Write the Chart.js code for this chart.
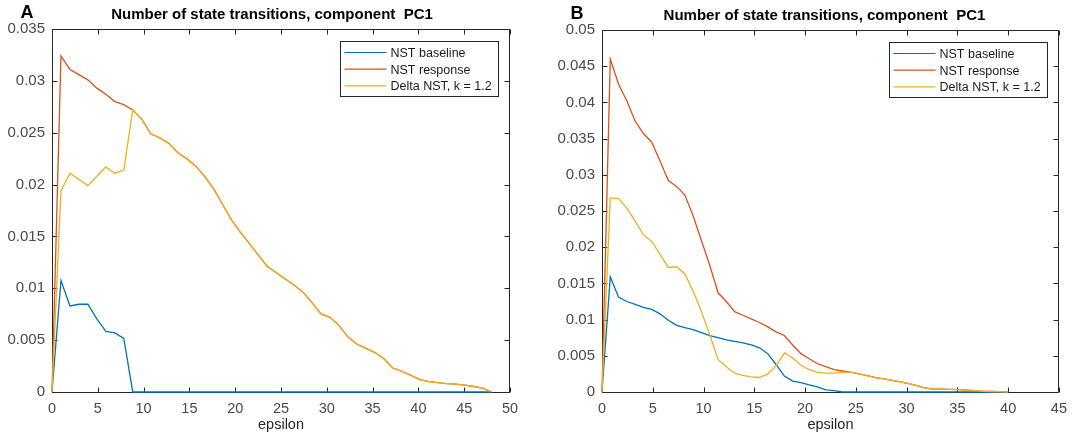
<!DOCTYPE html>
<html>
<head>
<meta charset="utf-8">
<script src="https://cdn.jsdelivr.net/npm/chart.js@4.4.0/dist/chart.umd.min.js"></script>
<style>
html, body { margin: 0; padding: 0; background: #fff; }
#wrap { position: relative; width: 1075px; height: 441px; }
.panel { position: absolute; top: 0; height: 441px; }
</style>
</head>
<body>
<div id="wrap">
  <div class="panel" style="left:0;width:537px"><canvas id="chartA"></canvas></div>
  <div class="panel" style="left:537px;width:538px"><canvas id="chartB"></canvas></div>
</div>
<script>
// Panel A data (epsilon from 0 to 48, 50 samples)
const epsA = [0, 0.98, 1.959, 2.939, 3.918, 4.898, 5.878, 6.857, 7.837, 8.816,
  9.796, 10.776, 11.755, 12.735, 13.714, 14.694, 15.673, 16.653, 17.633, 18.612,
  19.592, 20.571, 21.551, 22.531, 23.51, 24.49, 25.469, 26.449, 27.429, 28.408,
  29.388, 30.367, 31.347, 32.327, 33.306, 34.286, 35.265, 36.245, 37.224, 38.204,
  39.184, 40.163, 41.143, 42.122, 43.102, 44.082, 45.061, 46.041, 47.02, 48];
const baselineA = [0, 0.01075, 0.0083, 0.00846, 0.00846, 0.00706, 0.00585, 0.0057, 0.00517, 0,
  0, 0, 0, 0, 0, 0, 0, 0, 0, 0,
  0, 0, 0, 0, 0, 0, 0, 0, 0, 0,
  0, 0, 0, 0, 0, 0, 0, 0, 0, 0,
  0, 0, 0, 0, 0, 0, 0, 0, 0, 0];
const responseA = [0, 0.0324, 0.0311, 0.0306, 0.0301, 0.0293, 0.0287, 0.0280, 0.0277, 0.0272,
  0.0263, 0.0249, 0.0245, 0.0240, 0.0231, 0.0225, 0.0218, 0.0208, 0.0196, 0.0181,
  0.0166, 0.0154, 0.0143, 0.0132, 0.0121, 0.0115, 0.0109, 0.0103, 0.0096, 0.0086,
  0.0075, 0.0072, 0.0064, 0.0053, 0.0046, 0.0042, 0.0038, 0.0032, 0.0023, 0.0020,
  0.0016, 0.0012, 0.0010, 0.0009, 0.0008, 0.00076, 0.00067, 0.00053, 0.00037, 0];
const deltaA = [0, 0.0194, 0.0211, 0.0205, 0.0199, 0.0208, 0.0217, 0.0211, 0.0214, 0.0272,
  0.0263, 0.0249, 0.0245, 0.0240, 0.0231, 0.0225, 0.0218, 0.0208, 0.0196, 0.0181,
  0.0166, 0.0154, 0.0143, 0.0132, 0.0121, 0.0115, 0.0109, 0.0103, 0.0096, 0.0086,
  0.0075, 0.0072, 0.0064, 0.0053, 0.0046, 0.0042, 0.0038, 0.0032, 0.0023, 0.0020,
  0.0016, 0.0012, 0.0010, 0.0009, 0.0008, 0.00076, 0.00067, 0.00053, 0.00037, 0];
const xTicksA = [0, 5, 10, 15, 20, 25, 30, 35, 40, 45, 50];
const yTicksA = [0, 0.005, 0.01, 0.015, 0.02, 0.025, 0.03, 0.035];
const yLabelsA = ['0', '0.005', '0.01', '0.015', '0.02', '0.025', '0.03', '0.035'];

// Panel B data (epsilon from 0 to 40, 50 samples)
const epsB = [0, 0.816, 1.633, 2.449, 3.265, 4.082, 4.898, 5.714, 6.531, 7.347,
  8.163, 8.98, 9.796, 10.612, 11.429, 12.245, 13.061, 13.878, 14.694, 15.51,
  16.327, 17.143, 17.959, 18.776, 19.592, 20.408, 21.224, 22.041, 22.857, 23.673,
  24.49, 25.306, 26.122, 26.939, 27.755, 28.571, 29.388, 30.204, 31.02, 31.837,
  32.653, 33.469, 34.286, 35.102, 35.918, 36.735, 37.551, 38.367, 39.184, 40];
const baselineB = [0, 0.0159, 0.0131, 0.0125, 0.0121, 0.0117, 0.0114, 0.0108, 0.0099, 0.0092,
  0.0089, 0.0086, 0.0082, 0.0078, 0.0075, 0.0072, 0.0070, 0.0068, 0.0065, 0.0061,
  0.0053, 0.0038, 0.0022, 0.0015, 0.0013, 0.0010, 0.0007, 0.0003, 0.0002, 0,
  0, 0, 0, 0, 0, 0, 0, 0, 0, 0,
  0, 0, 0, 0, 0, 0, 0, 0, 0, 0];
const responseB = [0, 0.0460, 0.0425, 0.0402, 0.0374, 0.0357, 0.0345, 0.0319, 0.0292, 0.0284,
  0.0272, 0.0243, 0.0209, 0.0175, 0.0137, 0.0125, 0.0111, 0.0106, 0.0101, 0.0096,
  0.0090, 0.0083, 0.0078, 0.0065, 0.0053, 0.0046, 0.0039, 0.0035, 0.0031, 0.0029,
  0.00275, 0.0025, 0.00225, 0.0020, 0.0018, 0.0016, 0.0014, 0.00115, 0.00087, 0.00055,
  0.00041, 0.0004, 0.00036, 0.00032, 0.00026, 0.00018, 0.0001, 0.00007, 0.00004, 0];
const deltaB = [0, 0.0268, 0.0267, 0.0254, 0.0236, 0.0217, 0.0208, 0.0190, 0.0172, 0.0173,
  0.0163, 0.0139, 0.0111, 0.0079, 0.0045, 0.0035, 0.0026, 0.0023, 0.0021, 0.0020,
  0.0025, 0.0036, 0.0054, 0.0047, 0.0037, 0.0031, 0.0027, 0.0026, 0.0026, 0.0027,
  0.00275, 0.0025, 0.00225, 0.0020, 0.0018, 0.0016, 0.0014, 0.00115, 0.00087, 0.00055,
  0.00041, 0.0004, 0.00036, 0.00032, 0.00026, 0.00018, 0.0001, 0.00007, 0.00004, 0];
const xTicksB = [0, 5, 10, 15, 20, 25, 30, 35, 40, 45];
const yTicksB = [0, 0.005, 0.01, 0.015, 0.02, 0.025, 0.03, 0.035, 0.04, 0.045, 0.05];
const yLabelsB = ['0', '0.005', '0.01', '0.015', '0.02', '0.025', '0.03', '0.035', '0.04', '0.045', '0.05'];

const seriesNames = ['NST baseline', 'NST response', 'Delta NST, k = 1.2'];
const seriesColors = ['#0072BD', '#D95319', '#EDB120'];
const chartTitle = 'Number of state transitions, component  PC1';

const FONT = "'Liberation Sans', Arial, Helvetica, sans-serif";
const AXIS_COLOR = '#262626';
const TICK_TEXT = '#4a4a4a';

// MATLAB-like box with inward ticks, title, panel letter and legend
const matlabPlugin = {
  id: 'matlab',
  beforeDatasetsDraw(chart) {
    const { ctx, chartArea: a, scales: { x, y } } = chart;
    const L = Math.round(a.left) + 0.5, R = Math.round(a.right) - 0.5;
    const T = Math.round(a.top) + 0.5, B = Math.round(a.bottom) + 0.5;
    ctx.save();
    ctx.strokeStyle = AXIS_COLOR;
    ctx.lineWidth = 1;
    ctx.beginPath();
    ctx.rect(L, T, R - L, B - T);
    x.ticks.forEach(t => {
      const px = Math.round(x.getPixelForValue(t.value)) + 0.5;
      ctx.moveTo(px, B); ctx.lineTo(px, B - 5);
      ctx.moveTo(px, T); ctx.lineTo(px, T + 5);
    });
    y.ticks.forEach(t => {
      const py = Math.round(y.getPixelForValue(t.value)) + 0.5;
      ctx.moveTo(L, py); ctx.lineTo(L + 5, py);
      ctx.moveTo(R, py); ctx.lineTo(R - 5, py);
    });
    ctx.stroke();
    ctx.restore();
  },
  afterDraw(chart, args, opts) {
    const { ctx, chartArea: a } = chart;
    ctx.save();
    // title
    ctx.fillStyle = '#000';
    ctx.font = `bold 15px ${FONT}`;
    ctx.textAlign = 'center';
    ctx.textBaseline = 'middle';
    ctx.fillText(chartTitle, (a.left + a.right) / 2 + opts.titleShift, a.top - 14);
    // panel letter
    ctx.font = `bold 18px ${FONT}`;
    ctx.fillText(opts.letter, a.left - 25, a.top - 16);
    // legend
    const bw = 158, bh = 55;
    const bx = Math.round(a.right - 12 - bw) + 0.5, by = Math.round(a.top + 12) + 0.5;
    ctx.fillStyle = '#fff';
    ctx.fillRect(bx, by, bw, bh);
    ctx.strokeStyle = '#262626';
    ctx.lineWidth = 1;
    ctx.strokeRect(bx, by, bw, bh);
    ctx.font = `12.5px ${FONT}`;
    ctx.textAlign = 'left';
    chart.data.datasets.forEach((ds, i) => {
      const cy = by + 11 + i * 16.7;
      ctx.strokeStyle = ds.borderColor;
      ctx.lineWidth = 1.2;
      ctx.beginPath();
      ctx.moveTo(bx + 4, cy);
      ctx.lineTo(bx + 46, cy);
      ctx.stroke();
      ctx.fillStyle = '#1a1a1a';
      ctx.fillText(ds.label, bx + 50, cy + 1);
    });
    ctx.restore();
  }
};

function makeChart(id, eps, series, xTicks, yTicks, yLabels, xMax, yMax, leftW, rightPad, topPad, letter, titleShift) {
  const datasets = series.map((vals, i) => ({
    label: seriesNames[i],
    data: eps.map((e, k) => ({ x: e, y: vals[k] })),
    borderColor: seriesColors[i],
    borderWidth: 1.3,
    pointRadius: 0,
    fill: false,
    tension: 0,
    clip: false,
    order: 2 - i
  }));
  return new Chart(document.getElementById(id), {
    type: 'line',
    data: { datasets },
    plugins: [matlabPlugin],
    options: {
      responsive: true,
      maintainAspectRatio: false,
      animation: false,
      layout: { padding: { left: 0, right: rightPad, top: topPad, bottom: 0 } },
      plugins: {
        legend: { display: false },
        tooltip: { enabled: false },
        matlab: { letter: letter, titleShift: titleShift }
      },
      scales: {
        x: {
          type: 'linear',
          min: 0,
          max: xMax,
          grid: { display: false, drawTicks: false },
          border: { display: false },
          afterBuildTicks: s => { s.ticks = xTicks.map(v => ({ value: v })); },
          afterFit: s => { s.height = 49; },
          ticks: {
            color: TICK_TEXT,
            font: { family: FONT, size: 14.5 },
            padding: 8,
            maxRotation: 0,
            callback: v => String(v)
          },
          title: {
            display: true,
            text: 'epsilon',
            color: '#262626',
            font: { family: FONT, size: 14.5 },
            padding: { top: 0, bottom: 7 }
          }
        },
        y: {
          type: 'linear',
          min: 0,
          max: yMax,
          grid: { display: false, drawTicks: false },
          border: { display: false },
          afterBuildTicks: s => { s.ticks = yTicks.map(v => ({ value: v })); },
          afterFit: s => { s.width = leftW; },
          ticks: {
            color: TICK_TEXT,
            font: { family: FONT, size: 15 },
            padding: 7,
            callback: (v, idx) => yLabels[idx]
          }
        }
      }
    }
  });
}

makeChart('chartA', epsA, [baselineA, responseA, deltaA], xTicksA, yTicksA, yLabelsA,
  50, 0.035, 52, 27, 29, 'A', -9);
makeChart('chartB', epsB, [baselineB, responseB, deltaB], xTicksB, yTicksB, yLabelsB,
  45, 0.05, 65, 13, 30, 'B', -6);
</script>
</body>
</html>
